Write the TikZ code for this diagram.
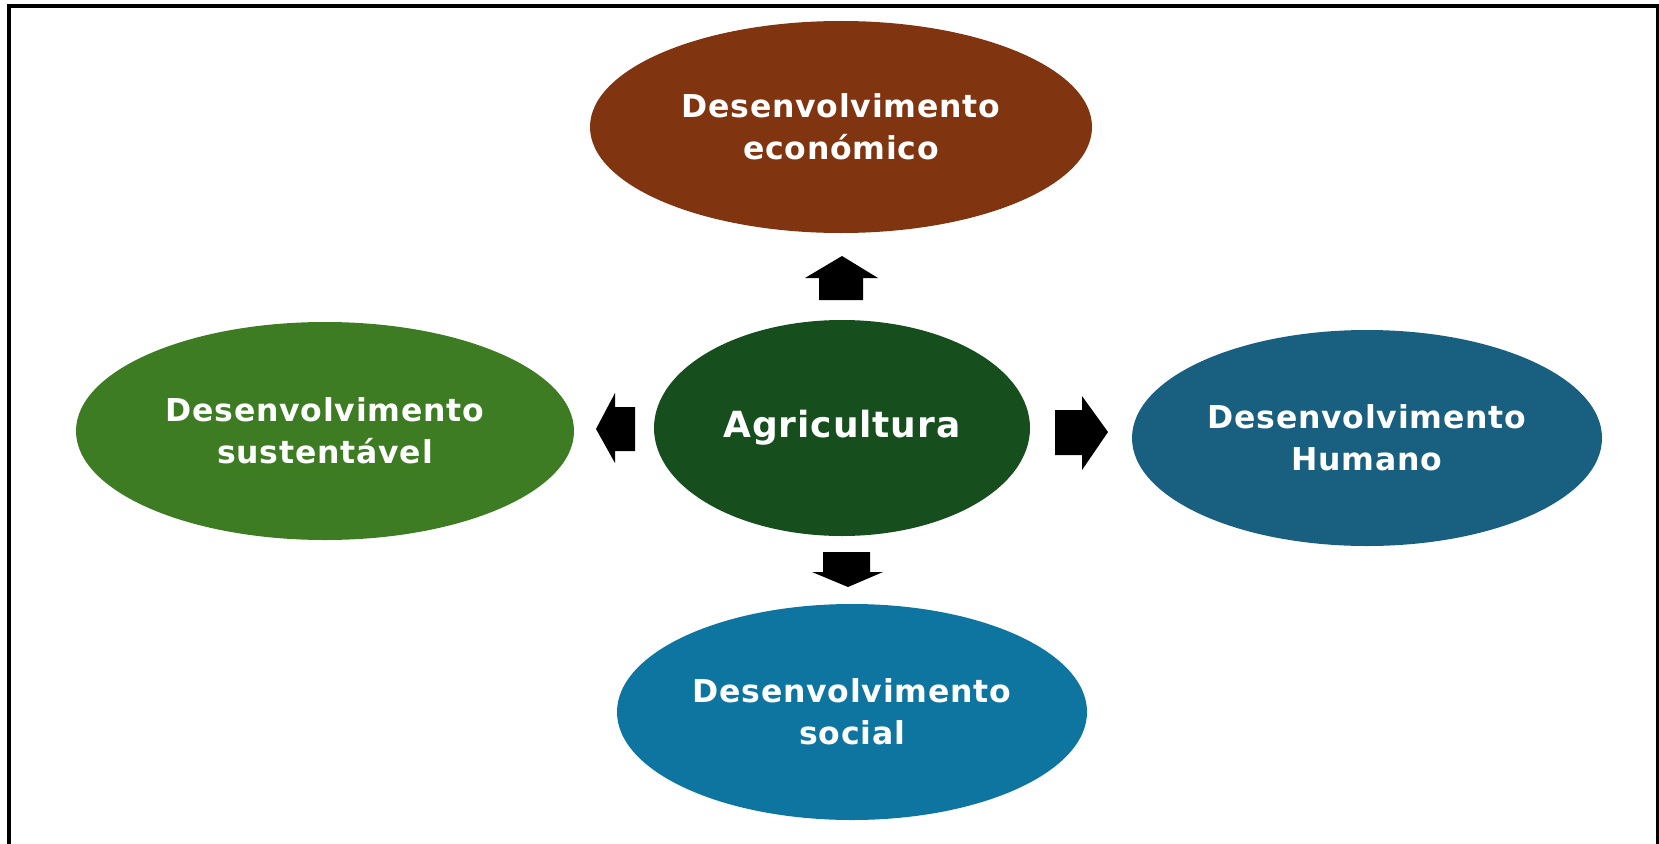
\documentclass[tikz,border=0pt]{standalone}
\usepackage{fontspec}
\setmainfont{DejaVu Sans}[LetterSpace=2.5]
\usetikzlibrary{shapes.geometric}
\definecolor{cbrown}{HTML}{80340F}
\definecolor{cgreen}{HTML}{3D7C23}
\definecolor{cdark}{HTML}{164F1D}
\definecolor{cteal}{HTML}{185F80}
\definecolor{cblue}{HTML}{0E75A0}
\tikzset{
  bubble/.style={ellipse, inner sep=0pt, text=white, align=center,
    font=\bfseries\fontsize{31.5}{42}\selectfont},
  blockarrow/.style={fill=black, draw=none}
}
\begin{document}
\begin{tikzpicture}[x=1pt,y=-1pt]
\useasboundingbox (0,0) rectangle (1659,843);
\begin{scope}
\clip (0,0) rectangle (1659,843);
\draw[line width=4.5pt] (9,6) rectangle (1658,870);
\end{scope}
\node[bubble, fill=cbrown, minimum width=502pt, minimum height=212pt] (eco) at (841,127) {Desenvolvimento\\económico};
\node[bubble, fill=cgreen, minimum width=498pt, minimum height=218pt] (sus) at (325,431) {Desenvolvimento\\sustentável};
\node[bubble, fill=cdark, minimum width=376pt, minimum height=216pt, font=\bfseries\fontsize{36}{42}\selectfont] (agr) at (842,428) {Agricultura};
\node[bubble, fill=cteal, minimum width=470pt, minimum height=216pt] (hum) at (1367,438) {Desenvolvimento\\Humano};
\node[bubble, fill=cblue, minimum width=470pt, minimum height=216pt] (soc) at (852,712) {Desenvolvimento\\social};
% up arrow
\fill[blockarrow] (819,300) -- (819,278) -- (805,278) -- (842,256) -- (878,278) -- (863,278) -- (863,300) -- cycle;
% left arrow
\fill[blockarrow] (635,407) -- (615,407) -- (615,393) -- (596,429) -- (615,463) -- (615,451) -- (635,451) -- cycle;
% right arrow
\fill[blockarrow] (1055,410) -- (1082,410) -- (1082,396) -- (1108,432) -- (1082,470) -- (1082,455) -- (1055,455) -- cycle;
% down arrow
\fill[blockarrow] (823,552) -- (870,552) -- (870,572) -- (883,572) -- (848,587) -- (812,572) -- (823,572) -- cycle;
\end{tikzpicture}
\end{document}
